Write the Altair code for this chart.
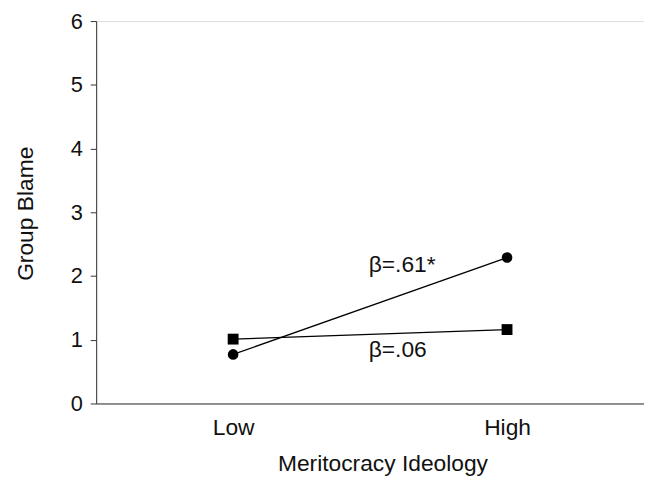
import altair as alt
import pandas as pd

levels = ["Low", "High"]
level_pos = [1, 3]
circle_vals = [0.77, 2.29]
square_vals = [1.01, 1.16]
labels = ["β=.61*", "β=.06"]
label_x = [1.99, 1.99]
label_y = [2.06, 0.73]

rows = []
for lv, xp, c, s in zip(levels, level_pos, circle_vals, square_vals):
    rows.append({"level": lv, "x": xp, "y": c, "series": "circle"})
    rows.append({"level": lv, "x": xp, "y": s, "series": "square"})
df = pd.DataFrame(rows)
lab = pd.DataFrame({"x": label_x, "y": label_y, "t": labels})

FONT = "Liberation Sans"
FS = 23

xscale = alt.Scale(domain=[0, 4], nice=False, zero=False)
yscale = alt.Scale(domain=[0, 6], nice=False)

xaxis = alt.Axis(
    title="Meritocracy Ideology", values=level_pos,
    labelExpr="datum.value == 1 ? 'Low' : 'High'",
    ticks=False, grid=False, domainColor="#333", domainWidth=1,
    labelFont=FONT, labelFontSize=FS, labelColor="#111", labelPadding=31,
    labelBaseline="alphabetic",
    titleFont=FONT, titleFontSize=FS, titleFontWeight="normal", titleColor="#111",
    titleX=289, titleY=68, titleBaseline="alphabetic", titleAlign="center",
)
yaxis = alt.Axis(
    title="Group Blame", values=[0, 1, 2, 3, 4, 5, 6], format="d", grid=False,
    tickSize=6, tickColor="#333", domainColor="#333",
    labelFont=FONT, labelFontSize=FS - 1, labelColor="#111", labelPadding=8,
    titleFont=FONT, titleFontSize=FS, titleFontWeight="normal", titleColor="#111",
    titleX=-64, titleY=194, titleAngle=270, titleBaseline="alphabetic", titleAlign="center",
)

base = alt.Chart(df)
lines = base.mark_line(color="black", strokeWidth=1.3).encode(
    x=alt.X("x:Q", scale=xscale, axis=xaxis),
    y=alt.Y("y:Q", scale=yscale, axis=yaxis),
    detail="series:N",
)
points = base.mark_point(filled=True, color="black", opacity=1).encode(
    x=alt.X("x:Q", scale=xscale),
    y=alt.Y("y:Q", scale=yscale),
    shape=alt.Shape("series:N", scale=alt.Scale(domain=["circle", "square"], range=["circle", "square"]), legend=None),
    size=alt.Size("series:N", scale=alt.Scale(domain=["circle", "square"], range=[115, 120]), legend=None),
)
texts = alt.Chart(lab).mark_text(font=FONT, fontSize=FS, color="#111", align="left", baseline="alphabetic").encode(
    x=alt.X("x:Q", scale=xscale),
    y=alt.Y("y:Q", scale=yscale),
    text="t:N",
)

chart = alt.layer(lines, points, texts).properties(
    width=553, height=386,
    autosize=alt.AutoSizeParams(type="none"),
    padding={"left": 89, "top": 11, "right": 0, "bottom": 73},
).configure_view(stroke="#999", strokeWidth=1).configure(background="white")

chart.save("out.html", embed_options={"renderer": "svg", "actions": False})
